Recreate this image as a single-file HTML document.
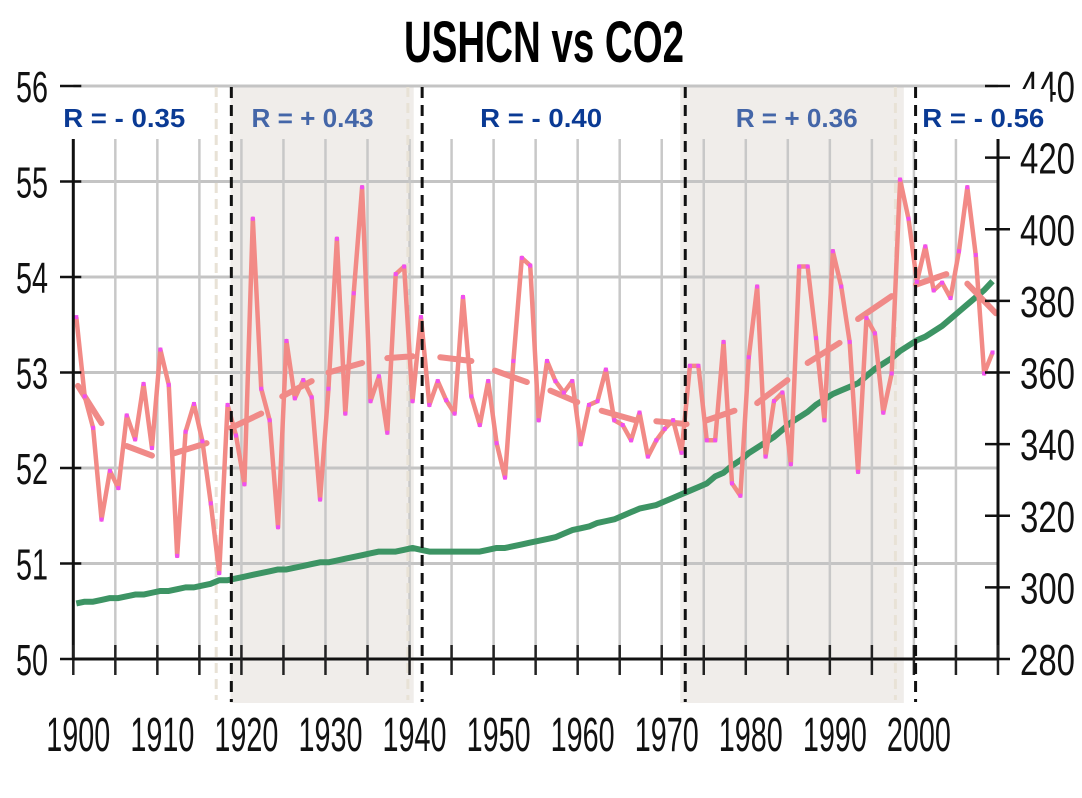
<!DOCTYPE html>
<html><head><meta charset="utf-8"><style>
html,body{margin:0;padding:0;background:#fff;}
svg{display:block;font-family:"Liberation Sans",sans-serif;}
</style></head><body>
<svg id="chart" width="1082" height="798" viewBox="0 0 1082 798" xmlns="http://www.w3.org/2000/svg">
<g id="bg"></g>
<g id="grid"></g>
<g id="series"></g>
<g id="axes"></g>
<g id="labels"></g>
<text x="404" y="62" font-size="58" font-weight="bold" textLength="280" lengthAdjust="spacingAndGlyphs" fill="#000">USHCN vs CO2</text>
</svg>
<script>
const years = [];
for (let y = 1900; y <= 2009; y++) years.push(y);
const tempValues = [53.58,52.75,52.42,51.46,51.97,51.79,52.55,52.30,52.88,52.21,
53.24,52.87,51.08,52.38,52.67,52.28,51.63,50.90,52.66,52.34,
51.83,54.61,52.83,52.50,51.38,53.33,52.73,52.92,52.74,51.67,
52.83,54.40,52.57,53.83,54.94,52.70,52.96,52.37,54.03,54.11,
52.70,53.58,52.66,52.91,52.71,52.57,53.79,52.75,52.45,52.91,
52.26,51.90,53.12,54.20,54.12,52.50,53.12,52.91,52.79,52.91,
52.25,52.66,52.70,53.03,52.50,52.45,52.29,52.58,52.12,52.29,
52.41,52.50,52.16,53.07,53.07,52.29,52.29,53.32,51.84,51.71,
53.16,53.90,52.12,52.70,52.79,52.04,54.11,54.11,53.36,52.50,
54.27,53.90,53.32,51.96,53.57,53.41,52.58,52.99,55.02,54.61,
53.95,54.32,53.86,53.94,53.78,54.27,54.94,54.23,52.99,53.21];
const co2Values = [295.5,296,296,296.5,297,297,297.5,298,298,298.5,
299,299,299.5,300,300,300.5,301,302,302,302.5,
303,303.5,304,304.5,305,305,305.5,306,306.5,307,
307,307.5,308,308.5,309,309.5,310,310,310,310.5,
311,310.5,310,310,310,310,310,310,310,310.5,
311,311,311.5,312,312.5,313,313.5,314,315,316,
316.5,317,318,318.5,319,320,321,322,322.5,323,
324,325,326,327,328,329,331,332,334,335.5,
337.5,339,340.5,342,344,346,347.5,349,351,352.5,
354,355,356,357,359,361,362.5,364,366,367.5,
369,370,371.5,373,375,377,379,381,383,385.5];
const trendStartYears = [1900.2,1906,1911.5,1918.4,1924.5,1930,1937,1943.3,1949.8,1956.4,1962.5,1969,1975,1981,1987,1993,1999.9,2006];
const trendEndYears   = [1903,1909,1915.5,1922,1928,1934,1940,1947,1953.6,1959.6,1966.5,1972.6,1978.3,1984.6,1990.8,1997,2003.5,2009.4];
const trendStartVals  = [52.86,52.23,52.15,52.42,52.75,53.0,53.15,53.16,53.02,52.81,52.6,52.49,52.5,52.68,53.1,53.56,53.92,53.93];
const trendEndVals    = [52.47,52.13,52.26,52.57,52.91,53.1,53.17,53.12,52.9,52.69,52.5,52.46,52.6,52.92,53.31,53.8,54.03,53.62];
const leftTicks = [50,51,52,53,54,55,56];
const rightTicks = [280,300,320,340,360,380,400,420,440];
const xTickLabels = [1900,1910,1920,1930,1940,1950,1960,1970,1980,1990,2000];
const shadeStarts = [1918.7,1972.2];
const shadeEnds = [1940.5,1998.8];
const dividerYears = [1918.8,1941.5,1972.8,2000.2];
const rLabels = ["R = - 0.35","R = + 0.43","R = - 0.40","R = + 0.36","R = - 0.56"];
const rLabelYears = [1898.8,1921.2,1948.4,1978.8,2001];

const X0 = 73.3, XS = 8.406, Y50 = 659, YS = 95.5;
const xS = y => X0 + (y - 1900) * XS;
const yL = t => Y50 - (t - 50) * YS;
const yR = c => Y50 - (c - 280) * (573 / 160);
const NS = "http://www.w3.org/2000/svg";
function mk(parent, tag, attrs) {
  const e = document.createElementNS(NS, tag);
  for (const k in attrs) e.setAttribute(k, attrs[k]);
  document.getElementById(parent).appendChild(e);
  return e;
}
shadeStarts.forEach((s, i) => {
  const r = mk('bg', 'rect', {x: xS(s), y: 87, width: xS(shadeEnds[i]) - xS(s), height: 616, fill: '#f0edea'});
  
  
});
leftTicks.forEach(t => {
  const l = mk('grid', 'line', {x1: X0, x2: 998, y1: yL(t), y2: yL(t), stroke: '#c4c4c4', 'stroke-width': 3});
  
  
});
for (let y = 1905; y <= 2005; y += 5) {
  const l = mk('grid', 'line', {x1: xS(y), x2: xS(y), y1: 139, y2: Y50, stroke: '#c8c8c8', 'stroke-width': 2.5});
  
  
}
[1917, 1939.8, 1997.8].forEach(y => {
  const l = mk('grid', 'line', {x1: xS(y), x2: xS(y), y1: 87, y2: 700, stroke: '#e8e2d6', 'stroke-width': 3, 'stroke-dasharray': '10 6'});
  
  
});
const co2Pts = years.map((y, i) => xS(y) + 3 + ',' + yR(co2Values[i])).join(' ');
const co2 = mk('series', 'polyline', {points: co2Pts, fill: 'none', stroke: '#3d9464', 'stroke-width': 6, 'stroke-linejoin': 'round'});


trendStartYears.forEach((s, i) => {
  const l = mk('series', 'line', {x1: xS(s) + 3, y1: yL(trendStartVals[i]), x2: xS(trendEndYears[i]) + 3, y2: yL(trendEndVals[i]), stroke: '#f08a88', 'stroke-width': 6, 'stroke-linecap': 'round'});
  
  
});
const tPts = years.map((y, i) => xS(y) + 3 + ',' + yL(tempValues[i])).join(' ');
const tl = mk('series', 'polyline', {points: tPts, fill: 'none', stroke: '#f28a86', 'stroke-width': 4.5, 'stroke-linejoin': 'round'});


years.forEach((y, i) => {
  const c = mk('series', 'rect', {x: xS(y) + 1, y: yL(tempValues[i]) - 2, width: 4, height: 4, fill: '#f050f0'});
  
  
});
rLabels.forEach((t, i) => {
  const x = xS(rLabelYears[i]);
  const shaded = (i === 1 || i === 3);
  const bx = mk('labels', 'rect', {x: x - 4, y: 89, width: 132, height: 48, fill: shaded ? '#f0edea' : '#fff'});
  
  
  const tx = mk('labels', 'text', {x: x, y: 127, 'font-size': 26, 'font-weight': 'bold', fill: shaded ? '#4466a8' : '#0a3a94', textLength: 122, lengthAdjust: 'spacingAndGlyphs'});
  tx.textContent = t;
  
  
});
dividerYears.forEach(y => {
  const l = mk('labels', 'line', {x1: xS(y), x2: xS(y), y1: 87, y2: 702, stroke: '#111', 'stroke-width': 3, 'stroke-dasharray': '11 7'});
  
  
});
const ax = [[X0, 139, X0, Y50], [X0, Y50, 998, Y50], [998, 139, 998, Y50]];
ax.forEach(a => {
  const l = mk('axes', 'line', {x1: a[0], y1: a[1], x2: a[2], y2: a[3], stroke: '#111', 'stroke-width': 3});
  
  
});
for (let y = 1900; y <= 2010; y += 5) {
  const l = mk('axes', 'line', {x1: xS(y), x2: xS(y), y1: 645, y2: 675, stroke: '#222', 'stroke-width': 2.5});
  
  
}
leftTicks.forEach(t => {
  const l = mk('axes', 'line', {x1: 60, x2: X0 + 8, y1: yL(t), y2: yL(t), stroke: '#111', 'stroke-width': 2.5});
  
  
  const tx = mk('axes', 'text', {x: 16, y: yL(t) + 16, 'font-size': 44, textLength: 32, lengthAdjust: 'spacingAndGlyphs', fill: '#111'});
  tx.textContent = t;
  
  
});
rightTicks.forEach(c => {
  const l = mk('axes', 'line', {x1: 985, x2: 1010, y1: yR(c), y2: yR(c), stroke: '#111', 'stroke-width': 2.5});
  
  
  const tx = mk('axes', 'text', {x: 1020, y: yR(c) + 16, 'font-size': 44, textLength: 55, lengthAdjust: 'spacingAndGlyphs', fill: '#111'});
  tx.textContent = c;
  
  
});
xTickLabels.forEach(y => {
  const tx = mk('axes', 'text', {x: xS(y) - 27, y: 751, 'font-size': 48, textLength: 64, lengthAdjust: 'spacingAndGlyphs', fill: '#111'});
  tx.textContent = y;
  
  
});
</script>
</body></html>
